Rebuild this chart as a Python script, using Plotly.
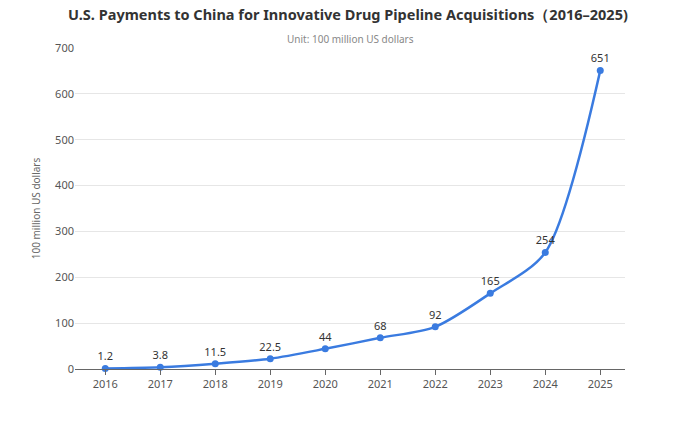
import plotly.graph_objects as go

years = ["2016","2017","2018","2019","2020","2021","2022","2023","2024","2025"]
values = [1.2, 3.8, 11.5, 22.5, 44, 68, 92, 165, 254, 651]
labels = ["1.2","3.8","11.5","22.5","44","68","92","165","254","651"]

fig = go.Figure(go.Scatter(
    x=years, y=values, mode="lines+markers+text",
    line=dict(color="#3a7be0", width=2.5, shape="spline", smoothing=0.8),
    marker=dict(color="#3a7be0", size=7),
    text=labels, textposition="top center",
    textfont=dict(size=11, color="#333"),
    cliponaxis=False, hoverinfo="x+y"))

fig.update_layout(
    width=680, height=428, paper_bgcolor="white", plot_bgcolor="white",
    margin=dict(l=67, r=63, t=40, b=67),
    font=dict(family="Noto Sans, sans-serif", color="#555"),
    showlegend=False,
    title=dict(text="<b>U.S. Payments to China for Innovative Drug Pipeline Acquisitions（2016–2025)</b>",
               x=0.5, xanchor="center", y=0.995, yanchor="top",
               font=dict(size=14.5, color="#333")),
    annotations=[dict(text="Unit: 100 million US dollars", xref="paper", yref="paper",
                      x=0.5, y=1.0, xanchor="center", yanchor="bottom",
                      showarrow=False, font=dict(size=10, color="#888"))],
    xaxis=dict(type="category", showgrid=False, showline=True, linecolor="#666",
               ticks="outside", ticklen=5, tickcolor="#666",
               tickfont=dict(size=11, color="#555"), range=[-0.55, 9.45]),
    yaxis=dict(range=[0, 700], dtick=100, gridcolor="#e6e6e6", zeroline=False,
               showline=False, tickfont=dict(size=11, color="#555"),
               title=dict(text="100 million US dollars", font=dict(size=10, color="#666"), standoff=12)),
)
fig.write_html("out.html")
